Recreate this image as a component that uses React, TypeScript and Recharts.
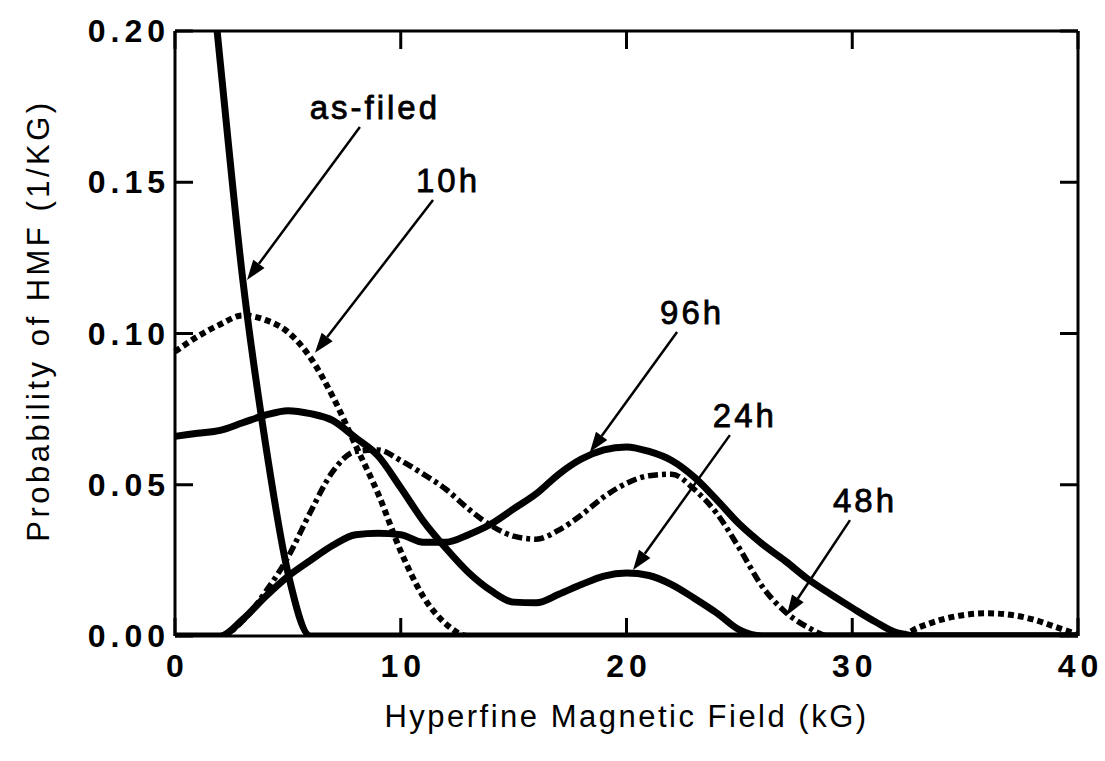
import React from 'react';
import { LineChart, Line, XAxis, YAxis, ReferenceLine, Label } from 'recharts';

// hyperfine field grid, kG
const field = [
  0, 1, 2, 3, 4, 5, 6, 7, 8, 9, 10, 11, 12, 13, 14, 15, 16, 17, 18, 19, 20,
  21, 22, 23, 24, 25, 26, 27, 28, 29, 30, 31, 32, 33, 34, 35, 36, 37, 38, 39, 40,
];

// probability of HMF (1/kG) for each annealing time
const asFiled = [
  0.34, 0.265, 0.19, 0.118, 0.064, 0.021, 0, 0, 0, 0, 0, 0, 0, 0, 0, 0, 0, 0, 0, 0, 0,
  0, 0, 0, 0, 0, 0, 0, 0, 0, 0, 0, 0, 0, 0, 0, 0, 0, 0, 0, 0,
];
const h10 = [
  0.094, 0.099, 0.103, 0.106, 0.1045, 0.1005, 0.092, 0.079, 0.063, 0.047, 0.028, 0.013, 0.004, 0, 0, 0, 0, 0, 0, 0, 0,
  0, 0, 0, 0, 0, 0, 0, 0, 0, 0, 0, 0, 0.003, 0.0055, 0.007, 0.0075, 0.007, 0.0055, 0.003, 0.0005,
];
const h24 = [
  0.066, 0.067, 0.068, 0.0705, 0.073, 0.0745, 0.0735, 0.0712, 0.0655, 0.0595, 0.049, 0.038, 0.029, 0.021, 0.015, 0.0112, 0.011, 0.0138, 0.017, 0.0198, 0.0208,
  0.02, 0.017, 0.0125, 0.0076, 0.002, 0, 0, 0, 0, 0, 0, 0, 0, 0, 0, 0, 0, 0, 0, 0,
];
const h48 = [
  0, 0, 0, 0.005, 0.0145, 0.026, 0.041, 0.0545, 0.061, 0.0615, 0.058, 0.0535, 0.0485, 0.042, 0.0365, 0.033, 0.032, 0.035, 0.04, 0.046, 0.0505,
  0.053, 0.0535, 0.0485, 0.0405, 0.029, 0.0165, 0.0082, 0.003, 0, 0, 0, 0, 0, 0, 0, 0, 0, 0, 0, 0,
];
const h96 = [
  0, 0, 0, 0.0055, 0.013, 0.0197, 0.025, 0.03, 0.0335, 0.034, 0.0335, 0.031, 0.031, 0.0335, 0.037, 0.042, 0.047, 0.0535, 0.0585, 0.0615, 0.0625,
  0.061, 0.058, 0.0525, 0.045, 0.037, 0.0305, 0.025, 0.019, 0.014, 0.0093, 0.0048, 0.001, 0, 0, 0, 0, 0, 0, 0, 0,
];

const fieldTicks = [0, 10, 20, 30, 40];
const probTicks = [0, 0.05, 0.1, 0.15, 0.2];

// arrow callouts: label sits at the tail, arrowhead at the curve
const callouts = [
  { text: 'as-filed', from: [8.19, 0.1683], to: [3.19, 0.1177] },
  { text: '10h', from: [11.43, 0.1441], to: [6.2, 0.0936] },
  { text: '96h', from: [22.24, 0.1005], to: [18.38, 0.0608] },
  { text: '24h', from: [24.58, 0.0664], to: [20.29, 0.0218] },
  { text: '48h', from: [29.9, 0.0383], to: [27.1, 0.0069] },
];

const rows = field.map((f, i) => ({
  field: f,
  asFiled: asFiled[i],
  h10: h10[i],
  h24: h24[i],
  h48: h48[i],
  h96: h96[i],
}));

const FONT = '"Liberation Sans", Arial, Helvetica, sans-serif';
const tickFont = { fontFamily: FONT, fontSize: 32, fontWeight: 700, letterSpacing: 5, fill: '#000' };
const TICK_LEN = 18;
const frame = { stroke: '#000', strokeWidth: 3 };

const BottomTick = (p: any) => (
  <g>
    <line x1={p.x} y1={p.y} x2={p.x} y2={p.y - TICK_LEN} {...frame} />
    <text x={p.x + 2.5} y={p.y + 41} textAnchor="middle" style={tickFont}>{p.payload.value}</text>
  </g>
);
const TopTick = (p: any) => <line x1={p.x} y1={p.y} x2={p.x} y2={p.y + TICK_LEN} {...frame} />;
const LeftTick = (p: any) => (
  <g>
    <line x1={p.x} y1={p.y} x2={p.x + TICK_LEN} y2={p.y} {...frame} />
    <text x={p.x - 5} y={p.y + 11} textAnchor="end" style={tickFont}>{p.payload.value.toFixed(2)}</text>
  </g>
);
const RightTick = (p: any) => <line x1={p.x} y1={p.y} x2={p.x - TICK_LEN} y2={p.y} {...frame} />;

const arrowShape = (text: string) => (p: any) => {
  const { x1, y1, x2, y2 } = p;
  const dx = x2 - x1;
  const dy = y2 - y1;
  const len = Math.sqrt(dx * dx + dy * dy);
  const ux = dx / len;
  const uy = dy / len;
  const head = 20;
  const half = 7;
  const bx = x2 - ux * head;
  const by = y2 - uy * head;
  return (
    <g>
      <line x1={x1} y1={y1} x2={bx} y2={by} stroke="#000" strokeWidth={2.5} />
      <polygon
        points={`${x2},${y2} ${bx - uy * half},${by + ux * half} ${bx + uy * half},${by - ux * half}`}
        fill="#000"
      />
      <text
        x={x1 + 15}
        y={y1 - 8}
        textAnchor="middle"
        stroke="#000"
        strokeWidth={0.8}
        style={{ fontFamily: FONT, fontSize: 33, letterSpacing: 3, fill: '#000' }}
      >
        {text}
      </text>
    </g>
  );
};

const XTitle = (p: any) => {
  const vb = p.viewBox;
  return (
    <text
      x={vb.x + vb.width / 2}
      y={vb.y + 91}
      textAnchor="middle"
      style={{ fontFamily: FONT, fontSize: 31, letterSpacing: 2.5, fill: '#000' }}
    >
      Hyperfine Magnetic Field (kG)
    </text>
  );
};

const YTitle = (p: any) => {
  const vb = p.viewBox;
  const cx = vb.x + 38;
  const cy = vb.y + vb.height / 2 - 13;
  return (
    <text
      x={cx}
      y={cy}
      transform={`rotate(-90 ${cx} ${cy})`}
      textAnchor="middle"
      dominantBaseline="central"
      style={{ fontFamily: FONT, fontSize: 31, letterSpacing: 3.5, fill: '#000' }}
    >
      Probability of HMF (1/KG)
    </text>
  );
};

const line = { xAxisId: 'b', yAxisId: 'l', type: 'monotone' as const, dot: false, isAnimationActive: false, stroke: '#000' };

export default function App() {
  return (
    <div style={{ position: 'absolute', left: 0, top: 0, background: '#fff' }}>
      <LineChart width={1105} height={761} data={rows} margin={{ top: 0, right: 0, bottom: 0, left: 0 }}>
        <XAxis
          xAxisId="b"
          dataKey="field"
          type="number"
          orientation="bottom"
          domain={[0, 40]}
          ticks={fieldTicks}
          interval={0}
          height={125}
          axisLine={frame}
          tickLine={false}
          tickSize={0}
          tickMargin={0}
          tick={BottomTick}
        >
          <Label content={XTitle} />
        </XAxis>
        <XAxis
          xAxisId="t"
          dataKey="field"
          type="number"
          orientation="top"
          domain={[0, 40]}
          ticks={fieldTicks}
          interval={0}
          height={31}
          axisLine={frame}
          tickLine={false}
          tickSize={0}
          tickMargin={0}
          tick={TopTick}
        />
        <YAxis
          yAxisId="l"
          type="number"
          orientation="left"
          domain={[0, 0.2]}
          allowDataOverflow
          ticks={probTicks}
          interval={0}
          width={175}
          axisLine={frame}
          tickLine={false}
          tickSize={0}
          tickMargin={0}
          tick={LeftTick}
        >
          <Label content={YTitle} />
        </YAxis>
        <YAxis
          yAxisId="r"
          type="number"
          orientation="right"
          domain={[0, 0.2]}
          allowDataOverflow
          ticks={probTicks}
          interval={0}
          width={27}
          axisLine={frame}
          tickLine={false}
          tickSize={0}
          tickMargin={0}
          tick={RightTick}
        />

        <Line {...line} dataKey="h10" strokeWidth={6} strokeDasharray="6 4" />
        <Line {...line} dataKey="h48" strokeWidth={5.5} strokeDasharray="10 4 4 4" />
        <Line {...line} dataKey="h24" strokeWidth={7} />
        <Line {...line} dataKey="h96" strokeWidth={7} />
        <Line {...line} dataKey="asFiled" strokeWidth={7} />

        {callouts.map((c) => (
          <ReferenceLine
            key={c.text}
            xAxisId="b"
            yAxisId="l"
            segment={[
              { x: c.from[0], y: c.from[1] },
              { x: c.to[0], y: c.to[1] },
            ]}
            ifOverflow="visible"
            shape={arrowShape(c.text)}
          />
        ))}
      </LineChart>
    </div>
  );
}
